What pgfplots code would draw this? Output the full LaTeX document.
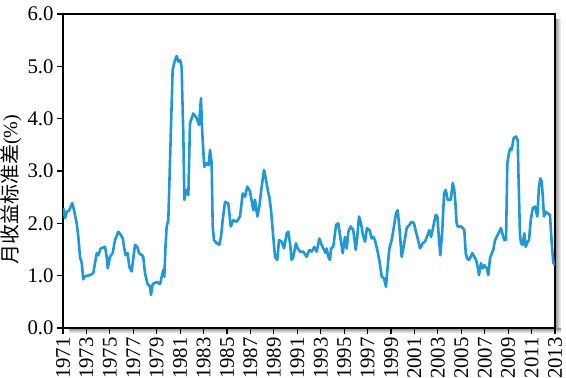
\documentclass[border=0pt]{standalone}
\usepackage{pgfplots}
\pgfplotsset{compat=1.18}
\usetikzlibrary{backgrounds}
\usepackage{fontspec}
\setmainfont{Liberation Serif}
\newfontfamily\cjk{Noto Sans CJK SC}
\definecolor{lineblue}{RGB}{30,152,215}
\begin{document}
\begin{tikzpicture}
\begin{axis}[
  at={(0,0)}, anchor=south west,
  scale only axis, width=246pt, height=157pt,
  xmin=1971, xmax=2013, ymin=0, ymax=6,
  xtick={1971,1973,...,2013},
  ytick={0,1,...,6},
  xtick pos=bottom, ytick pos=left,
  tick align=outside,
  major tick length=3pt,
  tick style={black, line width=0.6pt},
  axis line style={line width=0.6pt},
  xticklabel style={rotate=90, anchor=east, font=\fontsize{10.4}{11}\selectfont, inner sep=1.5pt},
  yticklabel style={font=\fontsize{10.4}{11}\selectfont, inner sep=1.5pt},
  xticklabel={\pgfmathprintnumber[1000 sep={}, fixed, precision=0]{\tick}},
  yticklabel={\pgfmathprintnumber[fixed, fixed zerofill, precision=1]{\tick}},
  /pgf/number format/assume math mode=true,
  ylabel={{\cjk 月收益标准差}(\%)},
  ylabel style={at={(axis description cs:-0.106,0.44)}, anchor=center, font=\fontsize{10}{11}\selectfont},
]
\addplot[color=lineblue, line width=1.3pt, line join=round] coordinates {
(1971.03,2.29) (1971.17,2.10) (1971.32,2.22) (1971.54,2.25) (1971.79,2.39) (1971.94,2.25)
(1972.17,2.00) (1972.31,1.74) (1972.45,1.36) (1972.60,1.24) (1972.73,0.93) (1972.88,0.99)
(1973.30,1.01) (1973.59,1.05) (1973.73,1.24) (1973.88,1.43) (1974.01,1.39) (1974.22,1.52)
(1974.59,1.55) (1974.73,1.36) (1974.82,1.14) (1975.01,1.36) (1975.24,1.43) (1975.44,1.68)
(1975.72,1.84) (1975.93,1.78) (1976.10,1.71) (1976.23,1.52) (1976.35,1.39) (1976.52,1.43)
(1976.66,1.17) (1976.86,1.08) (1977.00,1.33) (1977.15,1.59) (1977.34,1.55) (1977.49,1.43)
(1977.72,1.39) (1977.85,1.36) (1978.00,1.05) (1978.20,0.85) (1978.43,0.79) (1978.51,0.63)
(1978.66,0.84) (1979.00,0.88) (1979.28,0.84) (1979.43,0.98) (1979.56,1.11) (1979.65,0.98)
(1979.75,1.55) (1979.85,1.94) (1979.99,2.06) (1980.13,3.15) (1980.36,4.93) (1980.56,5.12)
(1980.71,5.20) (1980.84,5.09) (1980.99,5.12) (1981.13,4.99) (1981.18,4.48) (1981.27,3.72)
(1981.36,2.45) (1981.50,2.64) (1981.70,2.54) (1981.84,3.91) (1982.12,4.10) (1982.41,4.01)
(1982.61,3.88) (1982.78,4.39) (1982.89,3.72) (1983.06,3.08) (1983.27,3.15) (1983.44,3.11)
(1983.55,3.40) (1983.69,3.15) (1983.78,1.94) (1983.89,1.68) (1984.12,1.62) (1984.34,1.59)
(1984.49,1.74) (1984.63,2.06) (1984.83,2.41) (1985.11,2.38) (1985.32,1.94) (1985.54,2.06)
(1985.83,2.03) (1986.11,2.13) (1986.34,2.57) (1986.54,2.51) (1986.73,2.70) (1986.96,2.61)
(1987.25,2.25) (1987.39,2.45) (1987.59,2.13) (1987.76,2.32) (1987.96,2.70) (1988.16,3.02)
(1988.33,2.83) (1988.53,2.57) (1988.61,2.51) (1988.76,2.25) (1988.90,1.87) (1989.10,1.36)
(1989.29,1.30) (1989.44,1.68) (1989.67,1.65) (1989.87,1.52) (1990.10,1.81) (1990.23,1.84)
(1990.38,1.62) (1990.52,1.30) (1990.66,1.36) (1990.89,1.62) (1991.04,1.52) (1991.23,1.46)
(1991.51,1.46) (1991.80,1.36) (1992.03,1.49) (1992.23,1.46) (1992.45,1.55) (1992.66,1.46)
(1992.88,1.71) (1993.08,1.59) (1993.22,1.52) (1993.43,1.43) (1993.51,1.52) (1993.65,1.36)
(1993.79,1.30) (1993.88,1.52) (1994.07,1.55) (1994.31,1.97) (1994.50,2.00) (1994.71,1.68)
(1994.88,1.43) (1995.07,1.74) (1995.22,1.52) (1995.36,1.84) (1995.56,1.94) (1995.78,1.87)
(1995.99,1.49) (1996.12,1.74) (1996.27,2.13) (1996.44,2.00) (1996.58,1.80) (1996.78,1.65)
(1996.95,1.91) (1997.17,1.87) (1997.35,1.71) (1997.49,1.74) (1997.63,1.68) (1997.83,1.49)
(1998.00,1.30) (1998.21,0.98) (1998.40,0.95) (1998.57,0.79) (1998.69,1.11) (1998.86,1.52)
(1999.06,1.68) (1999.20,1.87) (1999.43,2.19) (1999.57,2.25) (1999.71,1.94) (1999.91,1.36)
(2000.11,1.59) (2000.34,1.91) (2000.56,1.97) (2000.77,2.03) (2000.96,2.00) (2001.13,1.84)
(2001.28,1.71) (2001.48,1.52) (2001.71,1.62) (2001.90,1.65) (2002.13,1.78) (2002.27,1.87)
(2002.42,1.74) (2002.61,1.94) (2002.82,2.16) (2002.96,2.13) (2003.10,1.68) (2003.21,1.39)
(2003.38,1.87) (2003.53,2.57) (2003.67,2.64) (2003.84,2.45) (2004.10,2.45) (2004.27,2.77)
(2004.40,2.64) (2004.50,2.38) (2004.60,2.00) (2004.70,1.94) (2005.00,1.94) (2005.26,1.87)
(2005.38,1.43) (2005.49,1.33) (2005.66,1.30) (2005.80,1.36) (2005.94,1.43) (2006.11,1.36)
(2006.26,1.30) (2006.40,1.17) (2006.51,1.01) (2006.68,1.24) (2006.83,1.14) (2006.97,1.20)
(2007.17,1.14) (2007.31,1.01) (2007.45,1.33) (2007.60,1.43) (2007.73,1.49) (2007.88,1.68)
(2008.11,1.78) (2008.31,1.87) (2008.39,1.91) (2008.54,1.78) (2008.67,1.68) (2008.82,1.68)
(2008.93,3.15) (2009.07,3.34) (2009.18,3.43) (2009.30,3.40) (2009.47,3.63) (2009.67,3.66)
(2009.82,3.59) (2009.87,3.02) (2010.01,1.78) (2010.10,1.62) (2010.24,1.59) (2010.38,1.81)
(2010.50,1.55) (2010.67,1.65) (2010.78,1.68) (2010.93,2.06) (2011.10,2.29) (2011.29,2.32)
(2011.49,2.13) (2011.63,2.70) (2011.75,2.86) (2011.86,2.80) (2011.95,2.54) (2012.06,2.13)
(2012.21,2.22) (2012.38,2.19) (2012.57,2.16) (2012.72,1.62) (2012.86,1.24) (2013.00,1.20)
};
\end{axis}
\begin{scope}[on background layer]
\shade[left color=black!40, right color=white] (246.3pt,-3pt) rectangle (249pt,154pt);
\shade[top color=black!40, bottom color=white] (3pt,-2.6pt) rectangle (249pt,-0.3pt);
\end{scope}
\pgfresetboundingbox
\path[use as bounding box] (-31.5pt,-25pt) rectangle (251.5pt,164pt);
\end{tikzpicture}
\end{document}
